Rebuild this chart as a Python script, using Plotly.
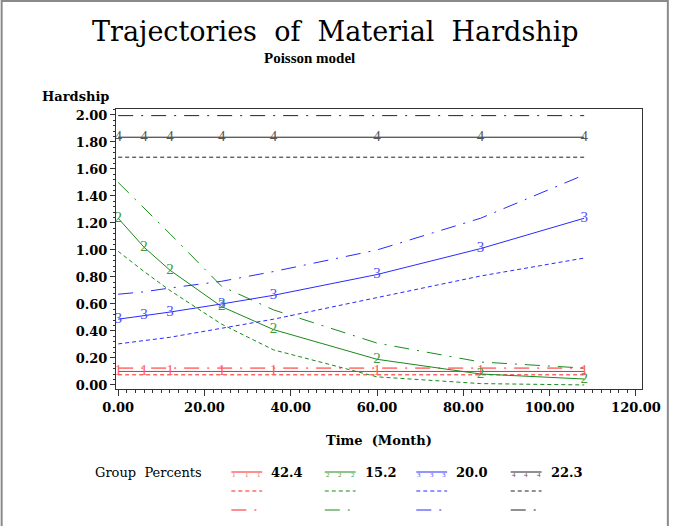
import plotly.graph_objects as go

# ---- data ----
months = [0, 6, 12, 24, 36, 60, 84, 108]

g1_mean = [0.100, 0.100, 0.100, 0.100, 0.100, 0.100, 0.100, 0.100]
g1_lower = [0.075, 0.075, 0.075, 0.075, 0.075, 0.075, 0.075, 0.075]
g1_upper = [0.125, 0.125, 0.125, 0.125, 0.125, 0.125, 0.125, 0.125]

g2_mean = [1.235, 1.02, 0.85, 0.58, 0.41, 0.19, 0.081, 0.044]
g2_lower = [0.99, 0.84, 0.70, 0.45, 0.26, 0.06, 0.01, 0.0]
g2_upper = [1.50, 1.31, 1.12, 0.73, 0.556, 0.31, 0.17, 0.125]

g3_mean = [0.487, 0.513, 0.54, 0.60, 0.664, 0.818, 1.01, 1.235]
g3_lower = [0.304, 0.326, 0.353, 0.42, 0.487, 0.647, 0.807, 0.94]
g3_upper = [0.672, 0.69, 0.718, 0.768, 0.84, 1.0, 1.235, 1.556]

g4_mean = [1.835, 1.835, 1.835, 1.835, 1.835, 1.835, 1.835, 1.835]
g4_lower = [1.687, 1.687, 1.687, 1.687, 1.687, 1.687, 1.687, 1.687]
g4_upper = [1.995, 1.995, 1.995, 1.995, 1.995, 1.995, 1.995, 1.995]

group_labels = ["1", "2", "3", "4"]
group_percents = ["42.4", "15.2", "20.0", "22.3"]

x_ticks = [0, 20, 40, 60, 80, 100, 120]
y_ticks = [0.0, 0.2, 0.4, 0.6, 0.8, 1.0, 1.2, 1.4, 1.6, 1.8, 2.0]

# ---- styles ----
line_colors = ["#ff2020", "#1a8a1a", "#2a2aff", "#222222"]
text_colors = ["#ff5a5a", "#3c9c3c", "#5050ff", "#555555"]
DASH = "4px,3px"
DASHDOT = "15px,8px,2px,8px"
SERIF = "DejaVu Serif"
DIGIT_FONT = "Liberation Serif"

groups = [
    (g1_mean, g1_lower, g1_upper),
    (g2_mean, g2_lower, g2_upper),
    (g3_mean, g3_lower, g3_upper),
    (g4_mean, g4_lower, g4_upper),
]

fig = go.Figure()
for i, (m, lo, up) in enumerate(groups):
    fig.add_trace(go.Scatter(x=months, y=lo, mode="lines",
                             line=dict(color=line_colors[i], width=1, dash=DASH),
                             showlegend=False, hoverinfo="skip"))
    fig.add_trace(go.Scatter(x=months, y=up, mode="lines",
                             line=dict(color=line_colors[i], width=1, dash=DASHDOT),
                             showlegend=False, hoverinfo="skip"))
    fig.add_trace(go.Scatter(x=months, y=m, mode="lines+text",
                             text=[group_labels[i]] * len(months),
                             textposition="middle center",
                             textfont=dict(family=DIGIT_FONT, size=15, color=text_colors[i]),
                             line=dict(color=line_colors[i], width=1),
                             showlegend=False))

# ---- layout geometry (pixels -> paper) ----
L, R, T, B = 116, 645, 109, 389
W, H = 673, 526


def px(x):
    return (x - L) / (R - L)


def py(y):
    return (B - y) / (B - T)


annotations = [
    dict(text="Trajectories  of  Material  Hardship", x=px(337), y=py(31),
         font=dict(family=SERIF, size=27, color="black")),
    dict(text="<b>Poisson model</b>", x=px(311), y=py(58),
         font=dict(family="Liberation Serif", size=15, color="black")),
    dict(text="<b>Hardship</b>", x=px(75), y=py(97),
         font=dict(family=SERIF, size=13, color="black")),
    dict(text="<b>Time  (Month)</b>", x=px(380), y=py(440),
         font=dict(family=SERIF, size=13, color="black")),
    dict(text="Group  Percents", x=px(149), y=py(472),
         font=dict(family=SERIF, size=13, color="black")),
]
for a in annotations:
    a.update(xref="paper", yref="paper", showarrow=False,
             xanchor="center", yanchor="middle")

shapes = []
legend_x0 = [232, 326, 418, 513]
legend_rows = [472, 491, 510]
for i in range(4):
    x0, x1 = legend_x0[i], legend_x0[i] + 31
    for r, dash in enumerate(["solid", DASH, DASHDOT]):
        shapes.append(dict(type="line", xref="paper", yref="paper",
                           x0=px(x0), x1=px(x1), y0=py(legend_rows[r]), y1=py(legend_rows[r]),
                           line=dict(color=line_colors[i], width=1, dash=dash)))
    for k in range(3):
        annotations.append(dict(text=group_labels[i], xref="paper", yref="paper",
                                x=px(x0 + 3 + 12.5 * k), y=py(legend_rows[0] + 3),
                                showarrow=False, xanchor="center", yanchor="middle",
                                font=dict(family=DIGIT_FONT, size=7, color=text_colors[i])))
    annotations.append(dict(text="<b>" + group_percents[i] + "</b>", xref="paper", yref="paper",
                            x=px(x1 + 7), y=py(legend_rows[0]), showarrow=False,
                            xanchor="left", yanchor="middle",
                            font=dict(family=SERIF, size=13, color="black")))

# outer border of the picture
shapes.append(dict(type="rect", xref="paper", yref="paper",
                   x0=px(1), x1=px(671), y0=py(1), y1=py(540),
                   line=dict(color="#8a8a8a", width=2)))

tick_font = dict(family=SERIF, size=13, color="black", weight="bold")

fig.update_layout(
    width=W, height=H,
    margin=dict(l=L, r=W - R, t=T, b=H - B, pad=0),
    paper_bgcolor="white", plot_bgcolor="white",
    showlegend=False,
    annotations=annotations,
    shapes=shapes,
    xaxis=dict(range=[-0.5, 121.4], tickvals=x_ticks,
               ticktext=["%.2f" % v for v in x_ticks],
               showline=True, linecolor="#333", linewidth=1, mirror=True,
               ticks="outside", ticklen=6, tickcolor="#333",
               minor=dict(dtick=2, ticks="outside", ticklen=3, tickcolor="#333"),
               showgrid=False, zeroline=False, tickfont=tick_font),
    yaxis=dict(range=[-0.03, 2.044], tickvals=y_ticks,
               ticktext=["%.2f" % v for v in y_ticks],
               showline=True, linecolor="#333", linewidth=1, mirror=True,
               ticks="outside", ticklen=5, tickcolor="#333",
               minor=dict(dtick=0.04, ticks="outside", ticklen=2, tickcolor="#333"),
               showgrid=False, zeroline=False, tickfont=tick_font),
)

fig.write_html("out.html", config={"displayModeBar": False},
               post_script="document.body.style.margin='0';")
